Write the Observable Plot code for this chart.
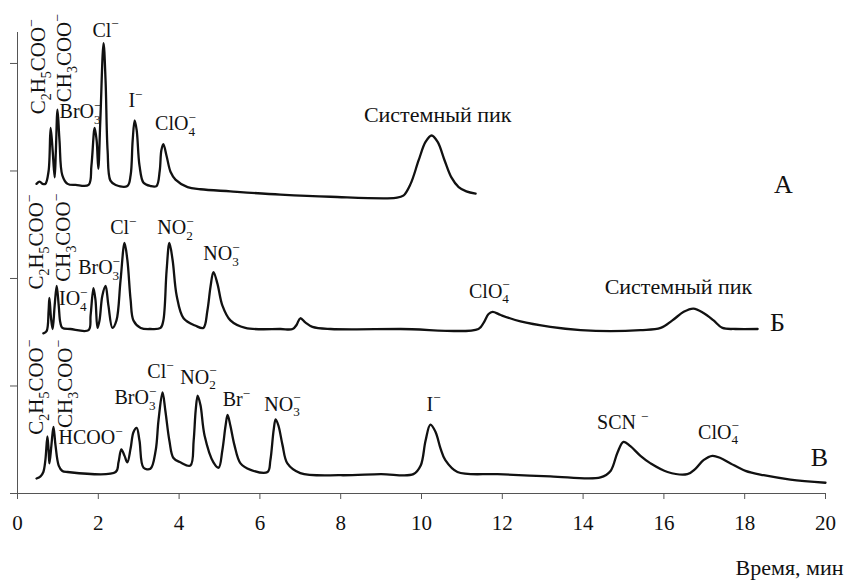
<!DOCTYPE html>
<html><head><meta charset="utf-8">
<script src="https://cdn.jsdelivr.net/npm/d3@7"></script>
<script src="https://cdn.jsdelivr.net/npm/@observablehq/plot@0.6"></script>
<style>
html,body{margin:0;padding:0;background:#fff;}
#chart svg{display:block;}
#chart svg text{font-family:"Liberation Serif","Times New Roman",serif !important;}
</style></head><body><div id="chart"></div>
<script>
// Chromatogram A (top)
const timeA = [0.47,0.55,0.62,0.69,0.77,0.82,0.87,0.92,0.95,0.99,1.04,1.11,1.24,1.44,1.76,1.83,1.91,1.96,2.00,2.05,2.13,2.18,2.23,2.30,2.43,2.72,2.80,2.85,2.90,2.95,3.02,3.12,3.29,3.44,3.52,3.56,3.61,3.69,3.79,3.91,4.21,4.53,5.27,6.51,7.75,9.36,9.55,9.73,9.93,10.10,10.25,10.40,10.57,10.74,10.92,11.11,11.34];
const signalA = [2.88,2.90,2.88,2.88,3.00,3.40,3.19,2.94,3.19,3.57,3.28,2.96,2.88,2.87,2.87,3.05,3.40,3.28,3.02,3.47,4.19,3.84,3.19,2.91,2.87,2.86,2.96,3.28,3.47,3.38,3.05,2.89,2.86,2.86,3.00,3.19,3.25,3.14,2.99,2.92,2.85,2.83,2.81,2.78,2.76,2.75,2.77,2.88,3.10,3.27,3.33,3.27,3.10,2.94,2.85,2.81,2.79];
// Chromatogram Б (middle)
const timeB = [0.64,0.72,0.77,0.79,0.83,0.87,0.92,0.97,1.02,1.06,1.11,1.31,1.76,1.81,1.88,1.93,1.98,2.03,2.10,2.18,2.25,2.35,2.45,2.55,2.65,2.72,2.80,2.87,3.05,3.29,3.54,3.61,3.69,3.76,3.84,3.94,4.11,4.41,4.60,4.70,4.78,4.85,4.95,5.07,5.27,5.64,6.51,6.81,6.91,7.00,7.13,7.30,7.75,9.48,11.41,11.54,11.66,11.76,11.96,12.45,13.19,13.94,14.68,15.42,15.92,16.21,16.49,16.73,16.98,17.23,17.45,17.77,18.32];
const signalB = [1.49,1.51,1.70,1.82,1.63,1.53,1.75,1.93,1.75,1.59,1.54,1.53,1.52,1.66,1.91,1.80,1.54,1.61,1.84,1.93,1.75,1.54,1.61,1.98,2.33,2.17,1.80,1.61,1.54,1.53,1.54,1.61,2.07,2.33,2.17,1.84,1.63,1.56,1.54,1.70,1.93,2.06,1.95,1.75,1.61,1.54,1.53,1.53,1.57,1.63,1.59,1.55,1.53,1.53,1.53,1.59,1.67,1.69,1.66,1.60,1.55,1.52,1.51,1.52,1.54,1.61,1.69,1.72,1.68,1.61,1.54,1.53,1.53];
// Chromatogram В (bottom)
const timeV = [0.47,0.57,0.64,0.69,0.74,0.77,0.79,0.84,0.89,0.94,1.02,1.11,1.24,2.43,2.50,2.57,2.65,2.72,2.80,2.87,2.95,3.02,3.12,3.29,3.42,3.49,3.59,3.66,3.76,3.86,4.03,4.28,4.36,4.41,4.46,4.53,4.63,4.85,4.98,5.07,5.15,5.20,5.27,5.37,5.52,5.77,6.19,6.26,6.34,6.39,6.46,6.56,6.68,7.00,8.00,8.99,9.80,9.98,10.10,10.22,10.35,10.47,10.59,10.89,11.88,13.19,14.43,14.68,14.85,15.00,15.17,15.42,15.67,16.09,16.58,16.78,16.98,17.20,17.40,17.65,18.02,18.47,19.13,20.00];
const signalV = [0.14,0.16,0.20,0.31,0.53,0.40,0.28,0.45,0.62,0.45,0.26,0.21,0.20,0.20,0.29,0.41,0.35,0.29,0.42,0.57,0.61,0.49,0.24,0.23,0.40,0.68,0.94,0.77,0.49,0.33,0.29,0.26,0.49,0.77,0.91,0.82,0.54,0.29,0.24,0.40,0.63,0.73,0.63,0.45,0.28,0.22,0.20,0.31,0.59,0.69,0.63,0.45,0.28,0.19,0.17,0.18,0.18,0.26,0.49,0.64,0.57,0.42,0.31,0.20,0.18,0.16,0.15,0.21,0.38,0.48,0.44,0.35,0.28,0.20,0.18,0.23,0.31,0.35,0.33,0.28,0.21,0.17,0.13,0.10];

// Axis ticks
const xTicks = [0,2,4,6,8,10,12,14,16,18,20];
const yTicks = [0,1,2,3,4];
const xLabel = "Время, мин";

// Peak labels (horizontal)  _x = subscript, ^x = superscript
const labelText = ["BrO_3^-","Cl^-","I^-","ClO_4^-","Системный пик",
  "IO_4^-","BrO_3^-","Cl^-","NO_2^-","NO_3^-","ClO_4^-","Системный пик",
  "HCOO^-","BrO_3^-","Cl^-","NO_2^-","Br^-","NO_3^-","I^-","SCN ^-","ClO_4^-"];
const labelTime = [1.56,2.18,2.92,3.91,10.40, 1.38,2.02,2.62,3.91,5.05,11.68,16.36, 1.81,2.92,3.54,4.48,5.42,6.56,10.30,14.98,17.35];
const labelSignal = [3.55,4.31,3.65,3.44,3.52, 1.81,2.10,2.47,2.47,2.23,1.88,1.92, 0.52,0.89,1.13,1.08,0.87,0.83,0.83,0.66,0.57];
// Peak labels (vertical)
const vertText = ["C_2H_5COO^-","CH_3COO^-","C_2H_5COO^-","CH_3COO^-","C_2H_5COO^-","CH_3COO^-"];
const vertTime = [0.52,1.16,0.47,1.14,0.47,1.19];
const vertSignal = [3.97,4.05,2.34,2.38,0.99,1.02];
// Chromatogram names
const traceNames = ["А","Б","В"];
const traceNameTime = [18.96,18.81,19.85];
const traceNameSignal = [2.87,1.59,0.33];

const rows = [];
[[traceNames[0], timeA, signalA],[traceNames[1], timeB, signalB],[traceNames[2], timeV, signalV]]
  .forEach(([name, ts, ss]) => ts.forEach((t, i) => rows.push({trace: name, t, s: ss[i]})));

const idx = n => d3.range(n);
const FONT = "Liberation Serif";

const plot = Plot.plot({
  width: 844, height: 583,
  marginLeft: 17, marginRight: 19, marginTop: 32, marginBottom: 90,
  x: {domain: [0, 20]},
  y: {domain: [0, 4.288]},
  style: {fontFamily: FONT, fontSize: "20px", color: "#111", background: "#fff", overflow: "visible"},
  marks: [
    Plot.ruleX([0], {stroke: "#555", strokeWidth: 1}),
    Plot.ruleY([0], {stroke: "#555", strokeWidth: 1}),
    Plot.axisX({ticks: xTicks, tickSize: 6, tickPadding: 16, fontSize: 21, fontFamily: FONT, label: null, stroke: "#555", fill: "#111", tickFormat: d => String(d)}),
    Plot.axisY({ticks: yTicks, tickSize: 7, label: null, stroke: "#555", tickFormat: () => ""}),
    Plot.line(rows, {x: "t", y: "s", z: "trace", stroke: "#111", strokeWidth: 2.3, curve: "catmull-rom", strokeLinejoin: "round"}),
    Plot.text(idx(labelText.length), {x: i => labelTime[i], y: i => labelSignal[i], text: i => labelText[i], fontSize: i => labelText[i].startsWith("Сист") ? 22 : 20, fontFamily: FONT, textAnchor: "middle", lineAnchor: "middle", fill: "#111"}),
    Plot.text(idx(vertText.length), {x: i => vertTime[i], y: i => vertSignal[i], text: i => vertText[i], fontSize: 21, fontFamily: FONT, rotate: -90, textAnchor: "middle", lineAnchor: "middle", fill: "#111"}),
    Plot.text(idx(traceNames.length), {x: i => traceNameTime[i], y: i => traceNameSignal[i], text: i => traceNames[i], fontSize: 26, fontFamily: FONT, textAnchor: "middle", lineAnchor: "middle", fill: "#111"}),
    Plot.text([xLabel], {frameAnchor: "bottom-right", textAnchor: "end", lineAnchor: "middle", dx: 18, dy: 74, fontSize: 22, fontFamily: FONT, fill: "#111"})
  ]
});
document.getElementById("chart").appendChild(plot);

// Render chemical formulas: _x subscript, ^x superscript (stacked when following a subscript)
const NS = "http://www.w3.org/2000/svg";
plot.querySelectorAll("text").forEach(el => {
  const raw = el.textContent;
  if (!/[_^]/.test(raw)) return;
  const fs = parseFloat(el.getAttribute("font-size")) || parseFloat(el.parentNode.getAttribute("font-size")) || parseFloat(getComputedStyle(el).fontSize) || 20;
  while (el.firstChild) el.removeChild(el.firstChild);
  let cur = 0, buf = "", lastSub = false, i = 0;
  const add = (txt, off, small, dx) => {
    const ts = document.createElementNS(NS, "tspan");
    ts.textContent = txt;
    if (off !== cur) ts.setAttribute("dy", (off - cur).toFixed(2));
    if (small) ts.setAttribute("font-size", (0.66 * fs).toFixed(2));
    if (dx) ts.setAttribute("dx", dx.toFixed(2));
    cur = off;
    el.appendChild(ts);
  };
  const flush = () => { if (buf) { add(buf, 0, false, 0); buf = ""; lastSub = false; } };
  while (i < raw.length) {
    const c = raw[i];
    if (c === "_" || c === "^") {
      flush();
      const ch = raw[i + 1] === "-" ? "−" : raw[i + 1];
      if (c === "_") { add(ch, 0.28 * fs, true, 0); lastSub = true; }
      else { add(ch, -0.42 * fs, true, lastSub ? -0.33 * fs : 0); lastSub = false; }
      i += 2;
    } else { buf += c; i++; }
  }
  flush();
});
</script></body></html>
